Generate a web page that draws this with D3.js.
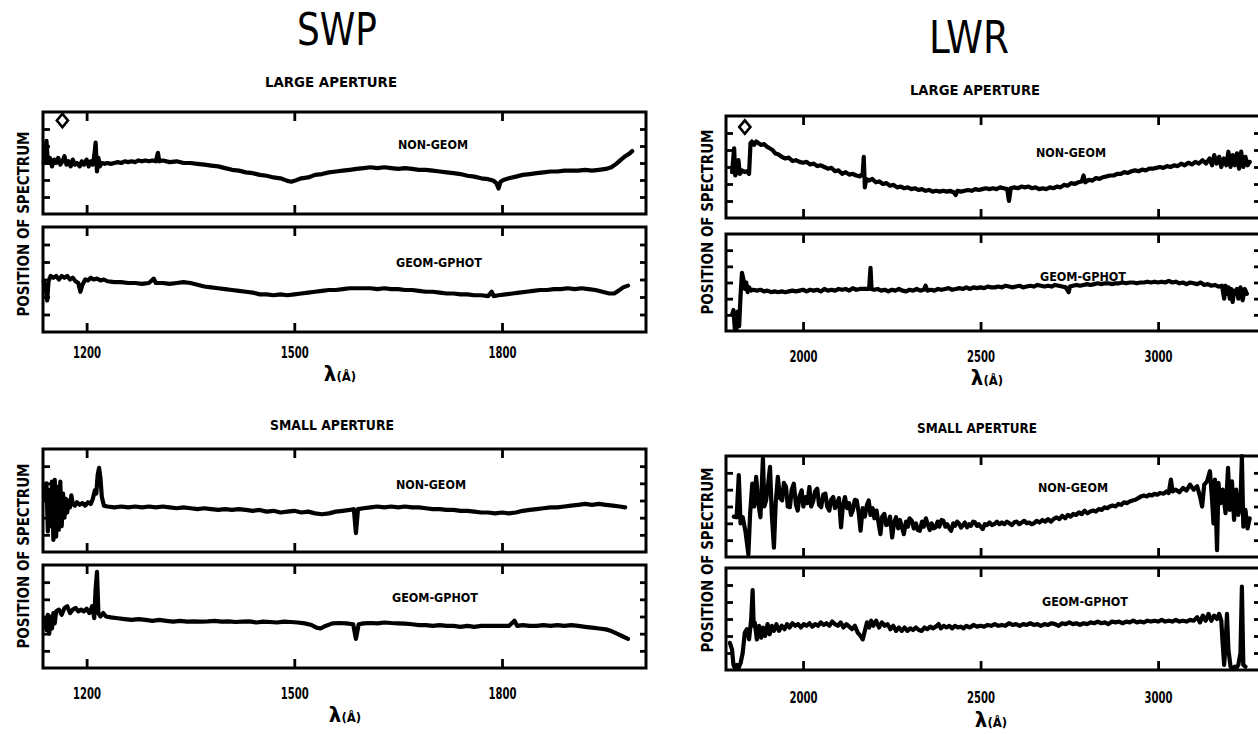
<!DOCTYPE html>
<html><head><meta charset="utf-8">
<script src="https://cdn.jsdelivr.net/npm/d3@7"></script>
<style>body{margin:0;background:#fff;overflow:hidden}</style>
</head><body><svg id="c" width="1258" height="734"></svg>
<script>
// ---------------- DATA ----------------
const instruments = ["SWP", "LWR"];
const apertures = ["LARGE APERTURE", "SMALL APERTURE"];
const panelNames = ["NON-GEOM", "GEOM-GPHOT"];
const swpTicks = [1200, 1500, 1800];
const lwrTicks = [2000, 2500, 3000];
const swpDomain = [1137, 2008];
const lwrDomain = [1783, 3287];
const yDomain = [0, 6];
const yTicks = [1, 2, 3, 4, 5];
const markerPos = [[1165, 5.5], [1836, 5.35]];

const swpLargeNonGeom = [[1138,3.0],[1140,3.4],[1142,4.3],[1144,3.0],[1147,3.3],[1150,2.8],[1153,3.2],[1156,3.0],[1159,3.3],[1162,2.9],[1165,3.1],[1168,3.4],[1171,2.9],[1174,3.1],[1177,2.8],[1180,3.2],[1183,2.9],[1186,3.0],[1190,2.8],[1193,3.1],[1196,2.9],[1200,3.2],[1203,2.8],[1206,3.1],[1209,2.9],[1211,3.4],[1213,4.2],[1215,2.5],[1217,3.3],[1219,2.8],[1222,3.0],[1226,2.95],[1230,3.0],[1235,2.95],[1240,3.0],[1245,3.05],[1250,3.0],[1255,3.1],[1260,3.05],[1265,3.1],[1270,3.05],[1275,3.15],[1280,3.1],[1285,3.15],[1290,3.1],[1295,3.15],[1300,3.1],[1303,3.6],[1305,3.1],[1310,3.15],[1320,3.05],[1330,3.1],[1340,3.0],[1350,3.0],[1360,2.95],[1370,2.9],[1380,2.85],[1390,2.8],[1400,2.7],[1410,2.6],[1420,2.55],[1430,2.45],[1440,2.4],[1450,2.3],[1460,2.25],[1470,2.15],[1480,2.1],[1490,1.95],[1496,1.9],[1500,1.95],[1510,2.1],[1520,2.15],[1530,2.3],[1540,2.35],[1550,2.45],[1560,2.5],[1570,2.55],[1580,2.6],[1590,2.65],[1600,2.7],[1610,2.75],[1620,2.7],[1630,2.75],[1640,2.7],[1650,2.65],[1660,2.7],[1670,2.65],[1680,2.6],[1690,2.6],[1700,2.55],[1710,2.5],[1720,2.45],[1730,2.4],[1740,2.35],[1750,2.25],[1760,2.2],[1770,2.1],[1780,2.05],[1788,1.95],[1792,1.8],[1795,1.5],[1798,1.9],[1802,2.0],[1810,2.1],[1820,2.2],[1830,2.3],[1840,2.35],[1850,2.4],[1860,2.45],[1870,2.5],[1880,2.5],[1890,2.55],[1900,2.55],[1910,2.55],[1920,2.6],[1930,2.55],[1940,2.6],[1950,2.65],[1958,2.75],[1965,2.95],[1972,3.2],[1978,3.4],[1984,3.55],[1988,3.7]];

const swpLargeGeom = [[1138,2.9],[1141,2.5],[1143,1.8],[1145,2.9],[1148,3.2],[1152,3.1],[1156,3.2],[1160,3.0],[1164,3.2],[1168,3.1],[1172,3.2],[1176,3.0],[1180,3.1],[1184,2.9],[1188,2.8],[1191,2.3],[1194,2.7],[1198,3.0],[1202,2.95],[1206,3.1],[1210,3.0],[1215,3.05],[1220,2.95],[1225,3.0],[1230,2.9],[1240,2.85],[1250,2.85],[1260,2.8],[1270,2.8],[1280,2.75],[1290,2.8],[1297,3.05],[1300,2.8],[1310,2.8],[1320,2.75],[1330,2.8],[1340,2.85],[1350,2.8],[1360,2.7],[1370,2.6],[1380,2.55],[1390,2.5],[1400,2.45],[1410,2.4],[1420,2.35],[1430,2.3],[1440,2.25],[1450,2.15],[1460,2.15],[1470,2.1],[1480,2.15],[1490,2.1],[1500,2.15],[1510,2.2],[1520,2.25],[1530,2.3],[1540,2.35],[1550,2.4],[1560,2.4],[1570,2.45],[1580,2.5],[1590,2.5],[1600,2.5],[1610,2.5],[1620,2.45],[1630,2.5],[1640,2.45],[1650,2.45],[1660,2.4],[1670,2.4],[1680,2.35],[1690,2.3],[1700,2.3],[1710,2.25],[1720,2.2],[1730,2.2],[1740,2.15],[1750,2.15],[1760,2.1],[1770,2.1],[1780,2.05],[1785,2.3],[1788,2.05],[1795,2.1],[1805,2.15],[1815,2.2],[1825,2.25],[1835,2.3],[1845,2.35],[1855,2.4],[1865,2.4],[1875,2.45],[1885,2.45],[1895,2.5],[1905,2.45],[1915,2.5],[1925,2.45],[1935,2.4],[1945,2.3],[1955,2.2],[1962,2.2],[1968,2.35],[1975,2.55],[1982,2.65]];

const lwrLargeNonGeom = [[1800,2.7],[1806,4.1],[1809,2.5],[1813,2.7],[1818,3.4],[1822,2.6],[1828,2.8],[1835,2.7],[1842,2.75],[1848,2.6],[1852,4.4],[1856,4.5],[1862,4.3],[1868,4.5],[1875,4.4],[1882,4.3],[1890,4.35],[1898,4.2],[1906,4.1],[1914,4.0],[1922,3.8],[1930,3.75],[1940,3.6],[1950,3.5],[1960,3.55],[1970,3.35],[1980,3.4],[1990,3.3],[2000,3.25],[2010,3.3],[2020,3.15],[2030,3.2],[2040,3.05],[2050,3.1],[2060,3.0],[2070,2.9],[2080,2.95],[2090,2.75],[2100,2.8],[2110,2.6],[2120,2.7],[2130,2.55],[2140,2.6],[2150,2.5],[2160,2.45],[2168,2.6],[2171,3.6],[2174,1.8],[2178,2.3],[2185,2.2],[2195,2.3],[2205,2.1],[2215,2.15],[2225,2.0],[2235,2.05],[2245,1.9],[2255,1.95],[2265,1.8],[2275,1.85],[2285,1.75],[2295,1.8],[2305,1.7],[2315,1.75],[2325,1.65],[2335,1.7],[2345,1.6],[2355,1.65],[2365,1.55],[2375,1.6],[2385,1.55],[2395,1.6],[2405,1.55],[2415,1.6],[2425,1.5],[2430,1.35],[2435,1.6],[2445,1.55],[2455,1.6],[2465,1.65],[2475,1.6],[2485,1.7],[2495,1.65],[2505,1.7],[2515,1.75],[2525,1.7],[2535,1.75],[2545,1.7],[2555,1.8],[2565,1.75],[2575,1.7],[2580,1.0],[2585,1.75],[2595,1.8],[2605,1.75],[2615,1.85],[2625,1.8],[2635,1.85],[2645,1.75],[2655,1.8],[2665,1.7],[2675,1.75],[2685,1.7],[2695,1.8],[2705,1.75],[2715,1.85],[2725,1.8],[2735,1.95],[2745,1.9],[2755,2.05],[2765,2.0],[2775,2.1],[2785,2.15],[2790,2.5],[2795,2.1],[2805,2.25],[2815,2.2],[2825,2.35],[2835,2.3],[2845,2.4],[2855,2.45],[2865,2.5],[2875,2.5],[2885,2.6],[2895,2.6],[2905,2.7],[2915,2.65],[2925,2.75],[2935,2.8],[2945,2.75],[2955,2.85],[2965,2.8],[2975,2.9],[2985,2.9],[2995,2.95],[3005,3.0],[3015,2.95],[3025,3.05],[3035,3.0],[3045,3.1],[3055,3.05],[3065,3.2],[3075,3.1],[3085,3.25],[3095,3.15],[3105,3.3],[3115,3.2],[3125,3.4],[3135,3.2],[3145,3.5],[3152,3.1],[3158,3.7],[3165,3.2],[3172,3.6],[3178,3.0],[3185,3.5],[3192,3.1],[3198,3.9],[3204,3.0],[3210,3.7],[3216,3.1],[3222,3.8],[3228,2.9],[3234,3.9],[3240,3.0],[3246,3.6],[3252,3.1],[3258,3.3]];

const lwrLargeGeom = [[1800,1.0],[1804,1.3],[1808,0.1],[1812,0.1],[1816,1.2],[1820,0.3],[1824,2.2],[1828,3.6],[1832,3.2],[1836,2.6],[1840,3.0],[1844,2.4],[1848,2.7],[1854,2.5],[1860,2.55],[1870,2.5],[1880,2.55],[1890,2.45],[1900,2.5],[1910,2.4],[1920,2.45],[1930,2.4],[1940,2.45],[1950,2.4],[1960,2.45],[1970,2.5],[1980,2.45],[1990,2.5],[2000,2.55],[2010,2.45],[2020,2.55],[2030,2.5],[2040,2.55],[2050,2.45],[2060,2.6],[2070,2.5],[2080,2.55],[2090,2.5],[2100,2.6],[2110,2.55],[2120,2.6],[2130,2.5],[2140,2.65],[2150,2.55],[2160,2.6],[2170,2.6],[2186,2.6],[2190,3.9],[2193,2.6],[2200,2.55],[2210,2.6],[2220,2.5],[2230,2.55],[2240,2.45],[2250,2.55],[2260,2.5],[2270,2.6],[2280,2.5],[2290,2.45],[2300,2.55],[2310,2.5],[2320,2.6],[2330,2.5],[2340,2.55],[2345,2.8],[2350,2.5],[2360,2.55],[2370,2.5],[2380,2.6],[2390,2.55],[2400,2.6],[2410,2.65],[2420,2.55],[2430,2.6],[2440,2.65],[2450,2.6],[2460,2.7],[2470,2.6],[2480,2.7],[2490,2.65],[2500,2.7],[2510,2.65],[2520,2.75],[2530,2.7],[2540,2.7],[2550,2.75],[2560,2.7],[2570,2.8],[2580,2.75],[2590,2.7],[2600,2.75],[2610,2.8],[2620,2.7],[2630,2.75],[2640,2.8],[2650,2.75],[2660,2.85],[2670,2.8],[2680,2.75],[2690,2.8],[2700,2.75],[2710,2.85],[2720,2.8],[2730,2.75],[2740,2.7],[2748,2.4],[2752,2.75],[2760,2.8],[2770,2.85],[2780,2.8],[2790,2.85],[2800,2.9],[2810,2.85],[2820,2.9],[2830,2.95],[2840,2.9],[2850,2.95],[2860,2.95],[2870,2.9],[2880,2.95],[2890,2.95],[2900,3.0],[2910,2.95],[2920,3.0],[2930,3.0],[2940,2.95],[2950,3.0],[2960,3.0],[2970,3.05],[2980,3.0],[2990,3.05],[3000,3.0],[3010,3.05],[3020,3.0],[3030,3.1],[3040,3.0],[3050,3.05],[3060,2.95],[3070,3.0],[3080,2.9],[3090,3.0],[3100,2.95],[3110,2.9],[3120,3.0],[3130,2.85],[3140,2.9],[3150,2.8],[3160,2.85],[3170,2.75],[3180,2.8],[3186,2.0],[3190,2.8],[3194,2.3],[3198,2.7],[3202,2.0],[3206,2.6],[3210,1.8],[3214,2.5],[3218,2.3],[3222,2.6],[3226,2.0],[3232,2.7],[3238,1.9],[3244,2.6],[3250,2.3]];

const swpSmallNonGeom = [[1140,3.0],[1142,4.0],[1144,1.2],[1146,3.6],[1148,1.5],[1150,4.1],[1152,0.7],[1154,4.2],[1156,0.9],[1158,3.8],[1160,1.3],[1162,4.1],[1164,1.5],[1166,3.4],[1168,2.0],[1170,3.1],[1172,2.3],[1174,3.0],[1176,2.6],[1178,3.3],[1180,2.8],[1183,2.7],[1186,2.9],[1190,2.75],[1194,2.85],[1198,2.7],[1202,2.9],[1206,2.8],[1209,3.1],[1212,3.6],[1214,3.4],[1216,4.5],[1218,4.9],[1220,4.3],[1222,3.2],[1225,2.7],[1230,2.65],[1240,2.6],[1250,2.65],[1260,2.6],[1270,2.65],[1280,2.6],[1290,2.65],[1300,2.6],[1310,2.65],[1320,2.6],[1330,2.55],[1340,2.6],[1350,2.55],[1360,2.5],[1370,2.55],[1380,2.5],[1390,2.45],[1400,2.5],[1410,2.45],[1420,2.5],[1430,2.45],[1440,2.4],[1450,2.45],[1460,2.35],[1470,2.4],[1480,2.3],[1490,2.35],[1500,2.4],[1510,2.3],[1520,2.35],[1530,2.25],[1540,2.2],[1550,2.25],[1560,2.35],[1570,2.4],[1580,2.45],[1586,2.5],[1589,1.1],[1592,2.5],[1600,2.55],[1610,2.6],[1620,2.65],[1630,2.6],[1640,2.65],[1650,2.6],[1660,2.65],[1670,2.6],[1680,2.6],[1690,2.55],[1700,2.5],[1710,2.5],[1720,2.45],[1730,2.45],[1740,2.4],[1750,2.4],[1760,2.35],[1770,2.3],[1780,2.3],[1790,2.25],[1800,2.3],[1810,2.25],[1820,2.3],[1830,2.4],[1840,2.45],[1850,2.5],[1860,2.55],[1870,2.6],[1880,2.6],[1890,2.65],[1900,2.7],[1910,2.75],[1920,2.8],[1930,2.75],[1940,2.8],[1950,2.75],[1960,2.7],[1970,2.65],[1978,2.6]];

const swpSmallGeom = [[1140,2.8],[1142,2.2],[1144,3.1],[1146,2.0],[1148,3.0],[1150,2.3],[1152,3.2],[1154,2.6],[1156,3.3],[1160,3.4],[1164,3.1],[1168,3.5],[1172,3.6],[1176,3.2],[1180,3.4],[1184,3.5],[1188,3.3],[1192,3.4],[1196,3.3],[1200,3.45],[1204,3.2],[1208,3.6],[1211,2.9],[1213,4.6],[1215,5.6],[1217,3.2],[1220,3.0],[1224,3.2],[1228,3.0],[1235,2.95],[1245,2.9],[1255,2.85],[1265,2.8],[1275,2.85],[1285,2.8],[1295,2.75],[1305,2.8],[1315,2.75],[1325,2.7],[1335,2.75],[1345,2.7],[1355,2.72],[1365,2.7],[1375,2.72],[1385,2.75],[1395,2.7],[1405,2.72],[1415,2.68],[1425,2.7],[1435,2.72],[1445,2.65],[1455,2.7],[1465,2.68],[1475,2.65],[1485,2.7],[1495,2.68],[1505,2.65],[1515,2.6],[1525,2.5],[1532,2.35],[1538,2.3],[1545,2.45],[1555,2.6],[1565,2.62],[1575,2.6],[1585,2.55],[1589,1.7],[1593,2.55],[1600,2.6],[1610,2.62],[1620,2.6],[1630,2.65],[1640,2.62],[1650,2.6],[1660,2.58],[1670,2.55],[1680,2.5],[1690,2.5],[1700,2.45],[1710,2.5],[1720,2.45],[1730,2.45],[1740,2.4],[1750,2.45],[1760,2.4],[1770,2.45],[1780,2.45],[1790,2.45],[1800,2.45],[1810,2.45],[1818,2.75],[1822,2.45],[1830,2.5],[1840,2.45],[1850,2.45],[1860,2.5],[1870,2.45],[1880,2.5],[1890,2.45],[1900,2.5],[1910,2.45],[1920,2.4],[1930,2.35],[1940,2.3],[1950,2.25],[1958,2.15],[1966,2.0],[1974,1.85],[1982,1.7]];

const lwrSmallNonGeom = [[1805,2.4],[1813,2.36],[1819,4.86],[1824,2.0],[1830,2.36],[1838,1.5],[1846,0.16],[1851,2.6],[1857,4.36],[1862,3.0],[1868,4.76],[1874,3.2],[1880,2.36],[1887,5.86],[1891,3.0],[1896,3.36],[1901,4.2],[1907,5.36],[1912,2.5],[1918,0.56],[1923,3.2],[1929,4.76],[1935,3.5],[1941,3.36],[1946,4.4],[1952,4.16],[1957,3.0],[1963,2.96],[1968,4.0],[1974,4.36],[1980,3.1],[1985,2.76],[1990,3.6],[1996,3.96],[2001,3.0],[2007,3.56],[2012,3.2],[2018,4.16],[2023,3.0],[2029,3.36],[2034,3.9],[2040,4.06],[2045,3.1],[2051,2.96],[2057,3.7],[2063,3.76],[2068,3.0],[2074,2.76],[2079,3.4],[2085,3.56],[2090,2.9],[2096,3.16],[2101,3.5],[2107,1.76],[2112,3.0],[2118,3.56],[2124,2.9],[2130,3.2],[2135,2.5],[2140,2.76],[2146,3.4],[2151,3.36],[2157,2.6],[2162,1.56],[2168,2.9],[2174,2.4],[2180,3.1],[2185,3.36],[2190,2.5],[2196,2.9],[2201,2.3],[2207,2.76],[2212,2.1],[2218,1.36],[2223,2.4],[2229,2.56],[2234,1.9],[2240,1.96],[2245,2.4],[2251,1.16],[2256,2.0],[2262,2.36],[2268,1.7],[2273,2.2],[2278,1.8],[2284,1.36],[2290,2.1],[2295,1.8],[2300,2.3],[2306,2.16],[2312,1.7],[2318,2.0],[2323,1.6],[2329,1.56],[2335,2.1],[2340,1.8],[2346,2.3],[2351,1.96],[2357,1.6],[2362,2.0],[2368,1.7],[2373,1.76],[2379,2.1],[2384,1.8],[2390,2.2],[2395,2.16],[2401,1.8],[2406,1.95],[2412,1.7],[2417,1.56],[2423,2.0],[2428,1.85],[2434,2.1],[2440,1.96],[2445,1.75],[2451,1.9],[2456,2.05],[2462,1.76],[2468,1.95],[2473,1.85],[2479,2.1],[2484,2.06],[2490,1.85],[2495,1.95],[2500,1.8],[2506,1.66],[2512,1.95],[2518,1.9],[2525,2.05],[2532,1.9],[2539,1.96],[2546,2.1],[2553,1.95],[2560,2.05],[2567,1.95],[2574,2.1],[2581,2.0],[2588,1.9],[2595,2.06],[2602,2.1],[2609,1.95],[2616,2.05],[2623,2.15],[2630,2.0],[2637,2.05],[2644,1.95],[2650,2.0],[2658,2.15],[2666,2.05],[2674,2.2],[2682,2.1],[2690,2.25],[2698,2.1],[2706,2.26],[2714,2.35],[2722,2.25],[2730,2.45],[2738,2.3],[2746,2.5],[2754,2.4],[2761,2.56],[2769,2.5],[2777,2.65],[2785,2.55],[2793,2.75],[2801,2.6],[2809,2.7],[2817,2.76],[2825,2.7],[2833,2.85],[2841,2.8],[2849,2.95],[2857,2.9],[2864,3.0],[2872,3.06],[2880,3.0],[2888,3.15],[2896,3.1],[2904,3.25],[2912,3.2],[2920,3.3],[2928,3.36],[2936,3.4],[2944,3.5],[2952,3.6],[2960,3.65],[2968,3.6],[2975,3.7],[2983,3.66],[2990,3.75],[2998,3.7],[3005,3.8],[3016,3.76],[3024,3.9],[3030,3.8],[3036,4.6],[3041,3.9],[3050,4.0],[3060,3.85],[3070,4.1],[3080,3.95],[3090,4.3],[3100,4.0],[3110,4.2],[3118,3.6],[3124,3.0],[3130,4.3],[3138,4.5],[3146,5.1],[3152,3.4],[3156,2.0],[3160,4.6],[3166,0.4],[3170,4.4],[3176,3.2],[3182,4.0],[3190,2.6],[3197,5.3],[3202,2.8],[3208,4.5],[3214,2.2],[3220,4.0],[3226,2.5],[3232,3.2],[3236,6.0],[3240,1.8],[3246,2.8],[3252,1.7],[3258,2.3]];

const lwrSmallGeom = [[1794,1.6],[1800,1.2],[1804,0.3],[1808,0.1],[1814,0.3],[1818,0.1],[1824,0.4],[1830,1.0],[1836,2.2],[1842,2.4],[1848,1.8],[1854,3.0],[1858,4.7],[1861,2.6],[1864,2.8],[1870,1.8],[1876,2.6],[1882,1.9],[1887,2.5],[1893,2.0],[1900,2.7],[1906,2.1],[1912,2.6],[1918,2.3],[1925,2.7],[1932,2.3],[1940,2.6],[1948,2.4],[1955,2.7],[1962,2.5],[1970,2.75],[1978,2.6],[1986,2.7],[1994,2.5],[2002,2.7],[2010,2.6],[2018,2.75],[2026,2.55],[2034,2.7],[2042,2.6],[2050,2.8],[2058,2.65],[2066,2.75],[2074,2.6],[2082,2.85],[2090,2.7],[2098,2.6],[2106,2.8],[2114,2.5],[2122,2.7],[2130,2.55],[2138,2.4],[2146,2.6],[2154,2.2],[2162,2.0],[2168,1.8],[2174,2.3],[2180,2.8],[2186,2.5],[2192,2.9],[2198,2.6],[2206,2.9],[2214,2.5],[2222,2.8],[2230,2.6],[2238,2.7],[2246,2.4],[2254,2.6],[2262,2.3],[2270,2.5],[2278,2.3],[2286,2.5],[2294,2.3],[2302,2.45],[2310,2.35],[2318,2.5],[2326,2.35],[2334,2.3],[2342,2.5],[2350,2.4],[2358,2.55],[2366,2.45],[2374,2.55],[2382,2.7],[2388,2.45],[2396,2.6],[2404,2.5],[2412,2.6],[2420,2.45],[2428,2.6],[2436,2.5],[2444,2.55],[2452,2.45],[2460,2.6],[2470,2.5],[2480,2.65],[2490,2.55],[2500,2.6],[2510,2.55],[2520,2.65],[2530,2.6],[2540,2.7],[2550,2.6],[2560,2.65],[2570,2.6],[2580,2.75],[2590,2.65],[2600,2.7],[2610,2.6],[2620,2.7],[2630,2.65],[2640,2.75],[2650,2.65],[2660,2.7],[2670,2.6],[2680,2.7],[2690,2.65],[2700,2.75],[2710,2.7],[2720,2.6],[2730,2.75],[2740,2.7],[2750,2.8],[2760,2.7],[2770,2.75],[2780,2.65],[2790,2.75],[2800,2.7],[2810,2.8],[2820,2.75],[2830,2.85],[2840,2.75],[2850,2.8],[2860,2.7],[2870,2.85],[2880,2.8],[2890,2.85],[2900,2.75],[2910,2.85],[2920,2.8],[2930,2.9],[2940,2.8],[2950,2.85],[2960,2.8],[2970,2.9],[2980,2.85],[2990,2.9],[3000,2.85],[3010,2.95],[3020,2.85],[3030,2.9],[3040,2.85],[3050,2.95],[3060,2.85],[3070,2.9],[3080,2.85],[3090,2.95],[3100,2.9],[3110,3.1],[3118,2.8],[3126,3.2],[3134,2.9],[3142,3.3],[3150,2.9],[3158,3.2],[3166,3.0],[3172,3.3],[3178,2.9],[3182,1.5],[3186,0.3],[3190,1.5],[3194,3.3],[3198,1.2],[3204,0.2],[3210,0.1],[3216,0.2],[3220,0.1],[3226,0.3],[3232,1.0],[3236,4.9],[3240,0.3],[3246,0.2]];

// ---------------- LAYOUT ----------------
const FONT = "'DejaVu Sans Condensed','DejaVu Sans',sans-serif";
const groups = [
  {inst:0, ap:0, series:[swpLargeNonGeom, swpLargeGeom], xr:[43,646], panels:[[112,214],[227,332]], pad:15,
   title:[337,45], apPos:[331,87,132], ylab:[29,224], lam:[340,381], names:[[433,149],[439,267]], marker:true},
  {inst:1, ap:0, series:[lwrLargeNonGeom, lwrLargeGeom], xr:[726,1260], panels:[[116,218],[234,331]], pad:20,
   title:[969,53], apPos:[975,95,130], ylab:[713,222], lam:[987,385], names:[[1071,157],[1083,281]], marker:true},
  {inst:0, ap:1, series:[swpSmallNonGeom, swpSmallGeom], xr:[43,646], panels:[[449,552],[565,668]], pad:20,
   title:null, apPos:[332,430,124], ylab:[29,556], lam:[345,722], names:[[431,489],[435,602]], marker:false},
  {inst:1, ap:1, series:[lwrSmallNonGeom, lwrSmallGeom], xr:[726,1260], panels:[[456,557],[568,670]], pad:22,
   title:null, apPos:[977,433,120], ylab:[713,560], lam:[991,727], names:[[1073,492],[1085,606]], marker:false},
];

const svg = d3.select("#c");
const boldText = sel => sel.attr("font-family", FONT).attr("font-weight", "bold").attr("fill", "#000");

groups.forEach(g => {
  const isLWR = g.inst === 1;
  const x = d3.scaleLinear().domain(isLWR ? lwrDomain : swpDomain).range(g.xr);
  const xt = isLWR ? lwrTicks : swpTicks;

  if (g.title) {
    svg.append("text").attr("x", g.title[0]).attr("y", g.title[1])
      .attr("text-anchor", "middle").attr("font-family", FONT).attr("font-size", 44)
      .attr("textLength", 80).attr("lengthAdjust", "spacingAndGlyphs")
      .text(instruments[g.inst]);
  }
  svg.append("text").attr("x", g.apPos[0]).attr("y", g.apPos[1]).attr("text-anchor", "middle")
    .attr("font-size", 14).attr("textLength", g.apPos[2]).attr("lengthAdjust", "spacingAndGlyphs")
    .call(boldText).text(apertures[g.ap]);

  g.panels.forEach((p, pi) => {
    const [top, bot] = p;
    const y = d3.scaleLinear().domain(yDomain).range([bot, top]);
    const pg = svg.append("g");

    const styleAxis = a => {
      a.select(".domain").remove();
      a.selectAll(".tick line").attr("stroke", "#000").attr("stroke-width", 2.8);
    };
    pg.append("g").attr("transform", `translate(0,${top})`)
      .call(d3.axisTop(x).tickValues(xt).tickSizeInner(-9).tickSizeOuter(0).tickFormat(""))
      .call(styleAxis);
    const last = pi === g.panels.length - 1;
    const bAx = pg.append("g").attr("transform", `translate(0,${bot})`)
      .call(d3.axisBottom(x).tickValues(xt).tickSizeInner(-9).tickSizeOuter(0)
        .tickPadding(g.pad).tickFormat(last ? d3.format("d") : () => ""))
      .call(styleAxis);
    bAx.selectAll("text").attr("font-family", FONT).attr("font-weight", "bold")
      .attr("font-size", 15).attr("fill", "#000").attr("textLength", 28).attr("lengthAdjust", "spacingAndGlyphs");
    pg.append("g").attr("transform", `translate(${g.xr[0]},0)`)
      .call(d3.axisLeft(y).tickValues(yTicks).tickSizeInner(-7).tickSizeOuter(0).tickFormat(""))
      .call(styleAxis);
    pg.append("g").attr("transform", `translate(${g.xr[1]},0)`)
      .call(d3.axisRight(y).tickValues(yTicks).tickSizeInner(-6).tickSizeOuter(0).tickFormat(""))
      .call(styleAxis);

    pg.append("rect").attr("x", g.xr[0]).attr("y", top)
      .attr("width", g.xr[1] - g.xr[0]).attr("height", bot - top)
      .attr("fill", "none").attr("stroke", "#000").attr("stroke-width", 3);

    const line = d3.line().x(d => x(d[0])).y(d => y(d[1]));
    pg.append("path").datum(g.series[pi]).attr("d", line)
      .attr("fill", "none").attr("stroke", "#000").attr("stroke-width", 4.2)
      .attr("stroke-linejoin", "round").attr("stroke-linecap", "round");

    pg.append("text").attr("x", g.names[pi][0]).attr("y", g.names[pi][1]).attr("text-anchor", "middle")
      .attr("font-size", 13).attr("textLength", pi === 0 ? 70 : 86).attr("lengthAdjust", "spacingAndGlyphs")
      .call(boldText).text(panelNames[pi]);

    if (pi === 0 && g.marker) {
      const m = markerPos[g.inst];
      pg.append("path").attr("d", d3.symbol(d3.symbolSquare, 62)())
        .attr("transform", `translate(${x(m[0])},${y(m[1])}) scale(1,1.2) rotate(45)`)
        .attr("fill", "#fff").attr("stroke", "#000").attr("stroke-width", 2.4);
    }
  });

  svg.append("text").attr("transform", `translate(${g.ylab[0]},${g.ylab[1]}) rotate(-90)`)
    .attr("text-anchor", "middle").attr("font-size", 15)
    .attr("textLength", 185).attr("lengthAdjust", "spacingAndGlyphs")
    .call(boldText).text("POSITION OF SPECTRUM");

  const lt = svg.append("text").attr("x", g.lam[0]).attr("y", g.lam[1]).attr("text-anchor", "middle")
    .call(boldText);
  lt.append("tspan").attr("font-size", 22).text("λ");
  lt.append("tspan").attr("font-size", 13).text("(Å)");
});
</script></body></html>
